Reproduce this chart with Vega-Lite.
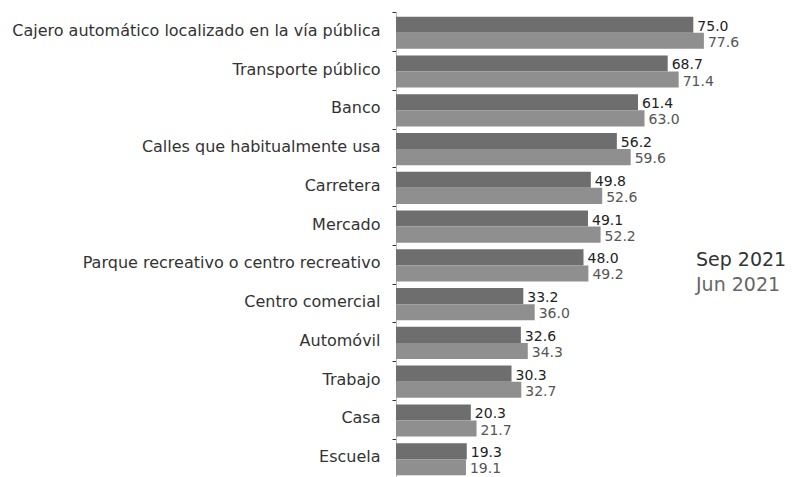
{
  "$schema": "https://vega.github.io/schema/vega-lite/v6.json",
  "width": 399,
  "height": 468,
  "autosize": {"type": "none"},
  "padding": {"left": 396, "top": 12, "right": 4, "bottom": 0},
  "background": "white",
  "config": {"view": {"stroke": null}, "font": "DejaVu Sans"},
  "data": {
    "values": [
      {"cat": "Cajero automático localizado en la vía pública", "serie": "Sep 2021", "value": 75.0},
      {"cat": "Cajero automático localizado en la vía pública", "serie": "Jun 2021", "value": 77.6},
      {"cat": "Transporte público", "serie": "Sep 2021", "value": 68.7},
      {"cat": "Transporte público", "serie": "Jun 2021", "value": 71.4},
      {"cat": "Banco", "serie": "Sep 2021", "value": 61.4},
      {"cat": "Banco", "serie": "Jun 2021", "value": 63.0},
      {"cat": "Calles que habitualmente usa", "serie": "Sep 2021", "value": 56.2},
      {"cat": "Calles que habitualmente usa", "serie": "Jun 2021", "value": 59.6},
      {"cat": "Carretera", "serie": "Sep 2021", "value": 49.8},
      {"cat": "Carretera", "serie": "Jun 2021", "value": 52.6},
      {"cat": "Mercado", "serie": "Sep 2021", "value": 49.1},
      {"cat": "Mercado", "serie": "Jun 2021", "value": 52.2},
      {"cat": "Parque recreativo o centro recreativo", "serie": "Sep 2021", "value": 48.0},
      {"cat": "Parque recreativo o centro recreativo", "serie": "Jun 2021", "value": 49.2},
      {"cat": "Centro comercial", "serie": "Sep 2021", "value": 33.2},
      {"cat": "Centro comercial", "serie": "Jun 2021", "value": 36.0},
      {"cat": "Automóvil", "serie": "Sep 2021", "value": 32.6},
      {"cat": "Automóvil", "serie": "Jun 2021", "value": 34.3},
      {"cat": "Trabajo", "serie": "Sep 2021", "value": 30.3},
      {"cat": "Trabajo", "serie": "Jun 2021", "value": 32.7},
      {"cat": "Casa", "serie": "Sep 2021", "value": 20.3},
      {"cat": "Casa", "serie": "Jun 2021", "value": 21.7},
      {"cat": "Escuela", "serie": "Sep 2021", "value": 19.3},
      {"cat": "Escuela", "serie": "Jun 2021", "value": 19.1}
    ]
  },
  "encoding": {
    "y": {
      "field": "cat",
      "type": "nominal",
      "sort": null,
      "scale": {"paddingInner": 0.17, "paddingOuter": 0.12},
      "axis": {
        "title": null,
        "labelFontSize": 16,
        "labelColor": "#333333",
        "labelPadding": 12,
        "labelOffset": -2,
        "labelLimit": 400,
        "domainColor": "#bbbbbb",
        "tickColor": "#333333",
        "tickSize": 4,
        "bandPosition": -0.12
      }
    },
    "yOffset": {"field": "serie", "type": "nominal", "sort": ["Sep 2021", "Jun 2021"]},
    "x": {
      "field": "value",
      "type": "quantitative",
      "scale": {"domain": [1.9, 100], "nice": false, "zero": false},
      "axis": null
    }
  },
  "layer": [
    {
      "mark": {"type": "bar", "clip": true},
      "encoding": {
        "x2": {"datum": 0},
        "color": {
          "field": "serie",
          "type": "nominal",
          "sort": ["Sep 2021", "Jun 2021"],
          "scale": {"domain": ["Sep 2021", "Jun 2021"], "range": ["#6e6e6e", "#8f8f8f"]},
          "legend": {
            "title": null,
            "orient": "none",
            "legendX": 281,
            "legendY": 238,
            "symbolSize": 0,
            "symbolOpacity": 0,
            "symbolStrokeWidth": 0,
            "labelOffset": 0,
            "labelFontSize": 19,
            "labelFont": "DejaVu Sans",
            "rowPadding": 5,
            "padding": 0,
            "encode": {
              "labels": {
                "update": {
                  "fill": {"signal": "datum.label === 'Sep 2021' ? '#333333' : '#666666'"}
                }
              }
            }
          }
        }
      }
    },
    {
      "mark": {"type": "text", "align": "left", "baseline": "middle", "dx": 4, "dy": 2, "fontSize": 14},
      "encoding": {
        "text": {"field": "value", "type": "quantitative", "format": ".1f"},
        "color": {
          "field": "serie",
          "type": "nominal",
          "scale": {"domain": ["Sep 2021", "Jun 2021"], "range": ["#222222", "#555555"]},
          "legend": null
        }
      }
    }
  ],
  "resolve": {"scale": {"color": "independent"}}
}
